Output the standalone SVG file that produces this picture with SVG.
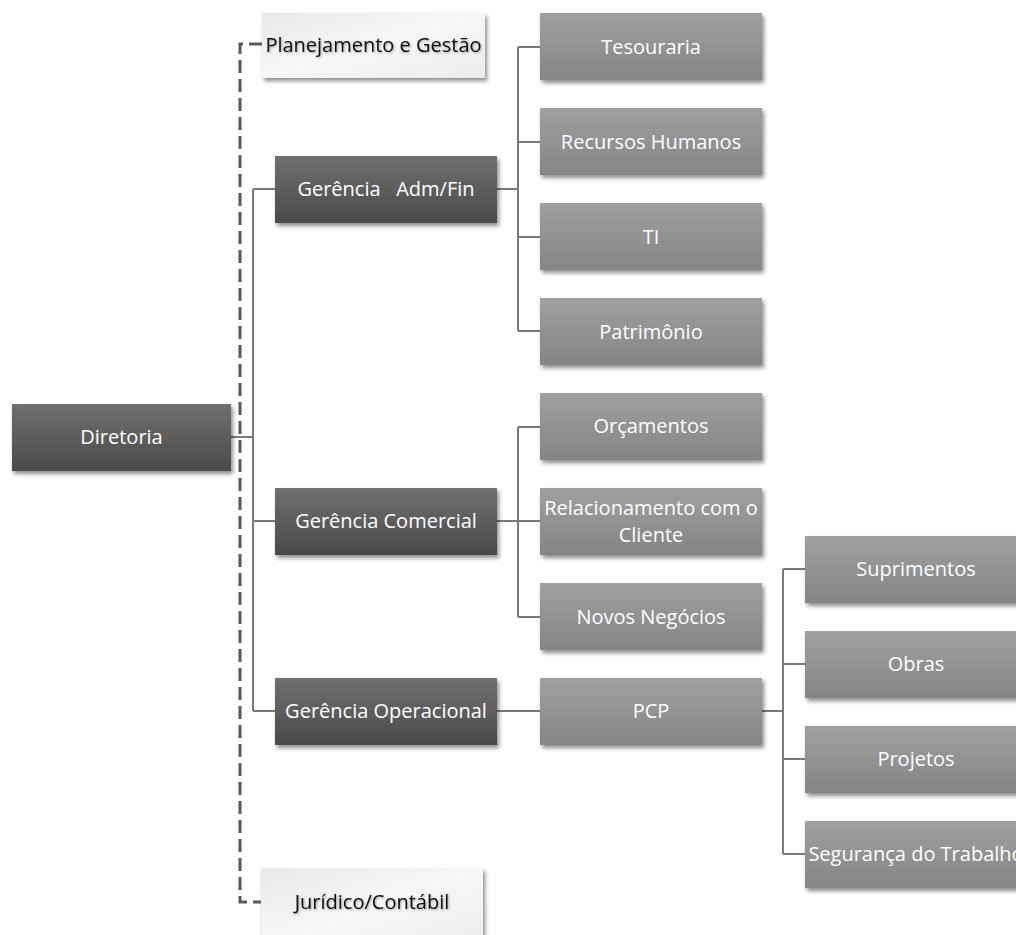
<svg xmlns="http://www.w3.org/2000/svg" width="1016" height="935" viewBox="0 0 1016 935">
<defs>
<linearGradient id="gDark" x1="0" y1="0" x2="0" y2="1"><stop offset="0" stop-color="#707070"/><stop offset="1" stop-color="#4a4a4a"/></linearGradient>
<linearGradient id="gMid" x1="0" y1="0" x2="0" y2="1"><stop offset="0" stop-color="#a0a0a0"/><stop offset="1" stop-color="#858585"/></linearGradient>
<linearGradient id="gLight" x1="0" y1="0" x2="1" y2="1"><stop offset="0" stop-color="#e9e9e9"/><stop offset="0.5" stop-color="#f7f7f7"/><stop offset="1" stop-color="#ececec"/></linearGradient>
<filter id="sh" x="-10%" y="-20%" width="125%" height="150%"><feDropShadow dx="2" dy="3" stdDeviation="2" flood-color="#000" flood-opacity="0.45"/></filter>
<filter id="tsh" x="-5%" y="-20%" width="110%" height="150%"><feDropShadow dx="1" dy="1" stdDeviation="0.8" flood-color="#000" flood-opacity="0.35"/></filter>
</defs>
<style>
.dark{fill:url(#gDark);filter:url(#sh)}
.mid{fill:url(#gMid);filter:url(#sh)}
.light{fill:url(#gLight);filter:url(#sh)}
text{font-family:"Open Sans","DejaVu Sans",sans-serif;font-size:20px;text-anchor:middle;white-space:pre}
.w{fill:#ffffff}
.b{fill:#111111;filter:url(#tsh)}
.con{fill:none;stroke:#7a7a7a;stroke-width:2}
.dash{fill:none;stroke:#595959;stroke-width:3;stroke-dasharray:13 6}
</style>
<g id="connectors">
<path class="dash" d="M262,44 H240 V902 H262"/>
<path class="con" d="M231,437 H253 M253,189 V711 M253,189 H275 M253,521 H275 M253,711 H275"/>
<path class="con" d="M497,189 H518 M518,47 V331 M518,47 H540 M518,142 H540 M518,237 H540 M518,331 H540"/>
<path class="con" d="M497,521 H540 M518,427 V617 M518,427 H540 M518,617 H540"/>
<path class="con" d="M497,711 H540"/>
<path class="con" d="M762,711 H783 M783,569 V854 M783,569 H805 M783,664 H805 M783,759 H805 M783,854 H805"/>
</g>
<g id="n-diretoria"><rect class="dark" x="12" y="404" width="219" height="67"/><text class="w" x="121.5" y="444">Diretoria</text></g>
<g id="n-planejamento"><rect class="light" x="262" y="13" width="223" height="65"/><text class="b" x="373.5" y="52">Planejamento e Gestão</text></g>
<g id="n-juridico"><rect class="light" x="261" y="868" width="222" height="80"/><text class="b" x="372" y="909">Jurídico/Contábil</text></g>
<g id="n-admfin"><rect class="dark" x="275" y="156" width="222" height="67"/><text class="w" x="386" y="196">Gerência   Adm/Fin</text></g>
<g id="n-comercial"><rect class="dark" x="275" y="488" width="222" height="67"/><text class="w" x="386" y="528">Gerência Comercial</text></g>
<g id="n-operacional"><rect class="dark" x="275" y="678" width="222" height="67"/><text class="w" x="386" y="718">Gerência Operacional</text></g>
<g id="n-tesouraria"><rect class="mid" x="540" y="13" width="222" height="67"/><text class="w" x="651" y="54">Tesouraria</text></g>
<g id="n-rh"><rect class="mid" x="540" y="108" width="222" height="67"/><text class="w" x="651" y="149">Recursos Humanos</text></g>
<g id="n-ti"><rect class="mid" x="540" y="203" width="222" height="67"/><text class="w" x="651" y="244">TI</text></g>
<g id="n-patrimonio"><rect class="mid" x="540" y="298" width="222" height="67"/><text class="w" x="651" y="339">Patrimônio</text></g>
<g id="n-orcamentos"><rect class="mid" x="540" y="393" width="222" height="67"/><text class="w" x="651" y="433">Orçamentos</text></g>
<g id="n-relacionamento"><rect class="mid" x="540" y="488" width="222" height="67"/><text class="w" x="651" y="515">Relacionamento com o</text><text class="w" x="651" y="542">Cliente</text></g>
<g id="n-novos"><rect class="mid" x="540" y="583" width="222" height="67"/><text class="w" x="651" y="624">Novos Negócios</text></g>
<g id="n-pcp"><rect class="mid" x="540" y="678" width="222" height="67"/><text class="w" x="651" y="718">PCP</text></g>
<g id="n-suprimentos"><rect class="mid" x="805" y="536" width="222" height="67"/><text class="w" x="916" y="576">Suprimentos</text></g>
<g id="n-obras"><rect class="mid" x="805" y="631" width="222" height="67"/><text class="w" x="916" y="671">Obras</text></g>
<g id="n-projetos"><rect class="mid" x="805" y="726" width="222" height="67"/><text class="w" x="916" y="766">Projetos</text></g>
<g id="n-seguranca"><rect class="mid" x="805" y="821" width="222" height="67"/><text class="w" x="916" y="861">Segurança do Trabalho</text></g>
</svg>
